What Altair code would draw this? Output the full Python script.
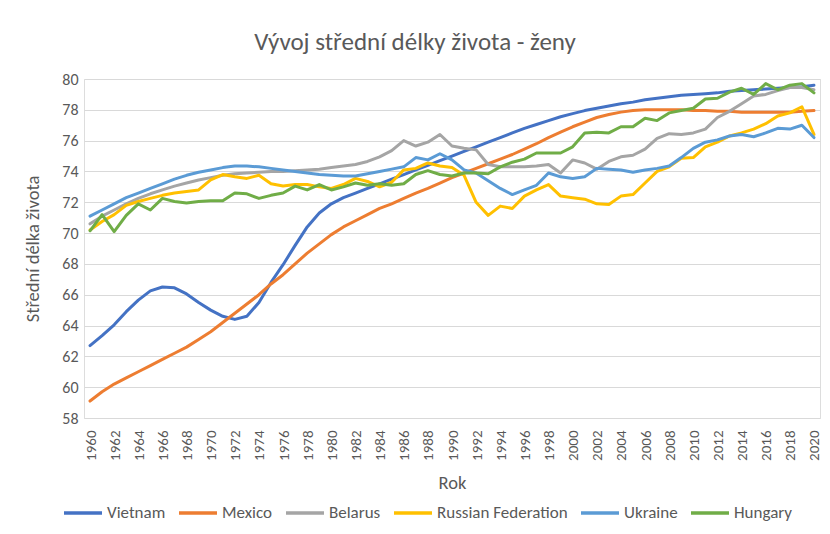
import altair as alt
import pandas as pd

years = list(range(1960, 2021))

vietnam = [62.7, 63.35, 64.05, 64.9, 65.65, 66.25, 66.5, 66.45, 66.05, 65.5,
           65.0, 64.6, 64.4, 64.6, 65.5, 66.8, 67.95, 69.2, 70.4, 71.3,
           71.9, 72.3, 72.6, 72.9, 73.2, 73.5, 73.8, 74.1, 74.4, 74.7,
           75.0, 75.3, 75.6, 75.9, 76.2, 76.5, 76.8, 77.05, 77.3, 77.55,
           77.75, 77.95, 78.1, 78.25, 78.4, 78.5, 78.65, 78.75, 78.85, 78.95,
           79.0, 79.05, 79.1, 79.2, 79.25, 79.3, 79.35, 79.4, 79.45, 79.5, 79.6]
mexico = [59.1, 59.7, 60.2, 60.6, 61.0, 61.4, 61.8, 62.2, 62.6, 63.1,
          63.6, 64.2, 64.8, 65.4, 66.0, 66.7, 67.3, 68.0, 68.7, 69.3,
          69.9, 70.4, 70.8, 71.2, 71.6, 71.9, 72.25, 72.6, 72.9, 73.25,
          73.6, 73.9, 74.2, 74.5, 74.8, 75.1, 75.45, 75.8, 76.2, 76.55,
          76.9, 77.2, 77.5, 77.7, 77.85, 77.95, 78.0, 78.0, 78.0, 78.0,
          77.95, 77.95, 77.9, 77.9, 77.85, 77.85, 77.85, 77.85, 77.85, 77.9, 77.95]
belarus = [70.6, 71.1, 71.5, 71.9, 72.25, 72.55, 72.8, 73.05, 73.25, 73.45,
           73.6, 73.75, 73.85, 73.9, 73.95, 74.0, 74.0, 74.05, 74.1, 74.15,
           74.25, 74.35, 74.45, 74.65, 74.95, 75.35, 76.0, 75.65, 75.9, 76.4,
           75.65, 75.5, 75.4, 74.45, 74.3, 74.3, 74.3, 74.35, 74.45, 73.9,
           74.75, 74.55, 74.15, 74.65, 74.95, 75.05, 75.45, 76.15, 76.45, 76.4,
           76.5, 76.75, 77.5, 77.9, 78.4, 78.9, 79.0, 79.25, 79.45, 79.45, 79.3]
russia = [70.2, 70.75, 71.2, 71.8, 72.05, 72.25, 72.45, 72.6, 72.7, 72.8,
          73.45, 73.8, 73.65, 73.55, 73.75, 73.2, 73.05, 73.15, 73.15, 73.0,
          72.9, 73.15, 73.55, 73.35, 73.0, 73.3, 74.1, 74.2, 74.55, 74.35,
          74.25, 73.75, 72.0, 71.15, 71.75, 71.6, 72.4, 72.8, 73.15, 72.4,
          72.3, 72.2, 71.9, 71.85, 72.4, 72.5, 73.25, 74.0, 74.3, 74.85,
          74.9, 75.6, 75.9, 76.3, 76.5, 76.75, 77.1, 77.6, 77.8, 78.2, 76.4]
ukraine = [71.1, 71.5, 71.9, 72.3, 72.6, 72.9, 73.2, 73.5, 73.75, 73.95,
           74.1, 74.25, 74.35, 74.35, 74.3, 74.2, 74.1, 74.0, 73.9, 73.8,
           73.75, 73.7, 73.7, 73.85, 74.0, 74.15, 74.3, 74.9, 74.75, 75.15,
           74.75, 74.1, 73.9, 73.4, 72.9, 72.5, 72.8, 73.1, 73.9, 73.65,
           73.55, 73.65, 74.2, 74.15, 74.1, 73.95, 74.1, 74.2, 74.35, 74.9,
           75.5, 75.9, 76.05, 76.3, 76.4, 76.25, 76.5, 76.8, 76.75, 77.0, 76.2]
hungary = [70.15, 71.2, 70.1, 71.15, 71.9, 71.5, 72.25, 72.05, 71.95, 72.05,
           72.1, 72.1, 72.6, 72.55, 72.25, 72.45, 72.6, 73.05, 72.8, 73.15,
           72.8, 73.0, 73.25, 73.1, 73.2, 73.1, 73.2, 73.8, 74.05, 73.8,
           73.7, 73.9, 73.9, 73.85, 74.3, 74.6, 74.8, 75.2, 75.2, 75.2,
           75.6, 76.5, 76.55, 76.5, 76.9, 76.9, 77.45, 77.3, 77.8, 77.95,
           78.1, 78.7, 78.75, 79.15, 79.4, 79.0, 79.7, 79.3, 79.6, 79.7, 79.1]

series_names = ["Vietnam", "Mexico", "Belarus", "Russian Federation", "Ukraine", "Hungary"]
series_values = [vietnam, mexico, belarus, russia, ukraine, hungary]
series_colors = ["#4472C4", "#ED7D31", "#A5A5A5", "#FFC000", "#5B9BD5", "#70AD47"]

x_ticks = list(range(1960, 2021, 2))
y_ticks = list(range(58, 81, 2))

rows = []
for name, vals in zip(series_names, series_values):
    for yr, v in zip(years, vals):
        rows.append({"Rok": yr, "Hodnota": v, "Zeme": name})
df = pd.DataFrame(rows)

FONT = "Carlito, Calibri, Lato, sans-serif"
GREY = "#595959"

chart = alt.Chart(df).mark_line(strokeWidth=3, strokeCap="round", strokeJoin="round").encode(
    x=alt.X("Rok:Q",
            scale=alt.Scale(domain=[1959.5, 2020.5], nice=False, zero=False),
            axis=alt.Axis(values=x_ticks, format="d", labelAngle=270, grid=False,
                          ticks=False, domain=False, labelPadding=12,
                          labelFontSize=15, labelColor=GREY, labelFont=FONT,
                          title="Rok", titleFontSize=18.5, titleFontWeight="normal",
                          titleColor=GREY, titleFont=FONT, titleY=64,
                          titleBaseline="middle", labelOverlap=False)),
    y=alt.Y("Hodnota:Q",
            scale=alt.Scale(domain=[58, 80], nice=False, zero=False),
            axis=alt.Axis(values=y_ticks, grid=True, gridColor="#D9D9D9", gridWidth=1,
                          ticks=False, domain=False, labelPadding=6,
                          labelFontSize=16, labelColor=GREY, labelFont=FONT,
                          title="Střední délka života", titleFontSize=18.5,
                          titleFontWeight="normal", titleColor=GREY, titleFont=FONT,
                          titleX=-52, titleY=169.5, titleAngle=270,
                          titleBaseline="middle", titleAlign="center")),
    color=alt.Color("Zeme:N",
                    scale=alt.Scale(domain=series_names, range=series_colors),
                    sort=series_names,
                    legend=alt.Legend(title=None, orient="none", direction="horizontal",
                                      legendX=-22, legendY=413,
                                      symbolType="stroke", symbolSize=1444,
                                      symbolStrokeWidth=3.5, labelFontSize=17,
                                      labelColor=GREY, labelFont=FONT,
                                      labelOffset=3, columnPadding=6)),
    order=alt.Order("Rok:Q"),
).properties(
    width=736,
    height=339,
    title=alt.TitleParams("Vývoj střední délky života - ženy", anchor="middle",
                          dx=-37, offset=16, fontSize=25, fontWeight=300,
                          color=GREY, font=FONT),
    autosize=alt.AutoSizeParams(type="none"),
    padding={"left": 76, "top": 71, "right": 2, "bottom": 108},
).configure_view(stroke=None).configure(background="white")

chart.save("out.html", embed_options={"renderer": "svg", "actions": False})
